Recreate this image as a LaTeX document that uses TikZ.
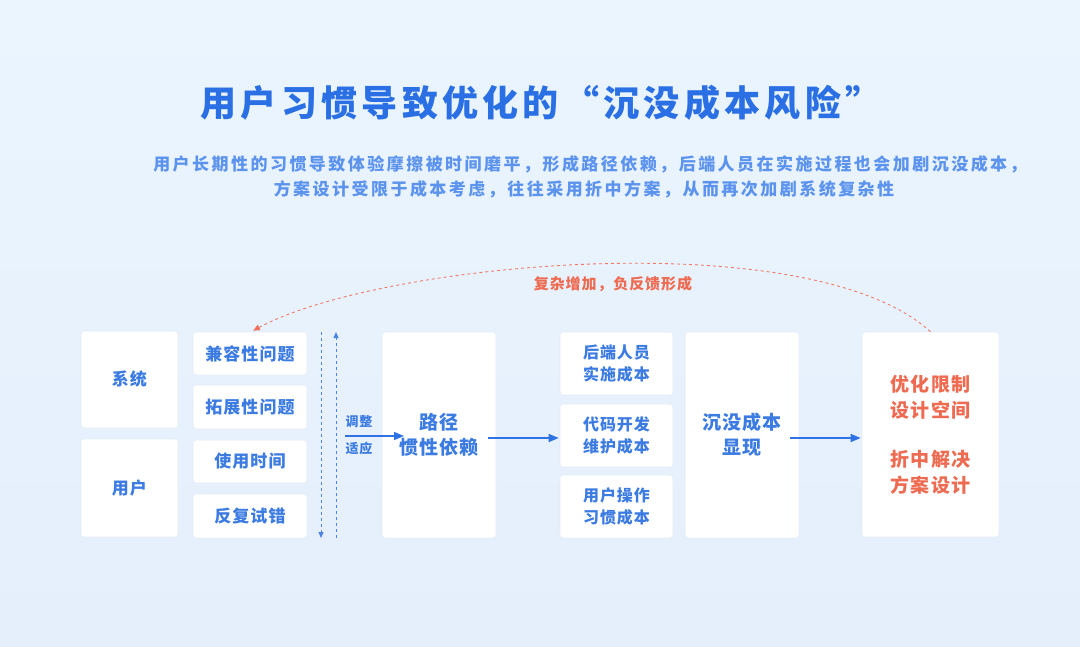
\documentclass[tikz,border=0pt]{standalone}
\usepackage{fontspec}
\setmainfont{Noto Sans CJK SC}
\newfontfamily\cjktitle{Noto Sans CJK SC}[LetterSpace=12]
\newfontfamily\cjksub{Noto Sans CJK SC}[LetterSpace=14.5]
\newfontfamily\cjkbox{Noto Sans CJK SC}[LetterSpace=6]
\usetikzlibrary{arrows.meta}
\definecolor{bgtop}{HTML}{EAF5FE}
\definecolor{bgbot}{HTML}{E5EFFC}
\definecolor{titleblue}{HTML}{2A6FE4}
\definecolor{subblue}{HTML}{5C93EE}
\definecolor{boxblue}{HTML}{3B7BE2}
\definecolor{lineblue}{HTML}{2F72E3}
\definecolor{dashblue}{HTML}{4A84E6}
\definecolor{redtxt}{HTML}{EE6A50}
\definecolor{redline}{HTML}{EF7A66}
\definecolor{cardline}{HTML}{E2ECF8}
\tikzset{
  card/.style={fill=white, draw=cardline, line width=0.6pt, rounded corners=3pt, inner sep=0pt, align=center},
  bigtxt/.style={text=boxblue, font=\cjkbox\bfseries\fontsize{19}{25}\selectfont},
  midtxt/.style={text=boxblue, font=\cjkbox\bfseries\fontsize{17}{22}\selectfont},
  smalltxt/.style={text=boxblue, font=\cjkbox\bfseries\fontsize{16}{22}\selectfont},
  redbig/.style={text=redtxt, font=\cjkbox\bfseries\fontsize{19}{26}\selectfont},
  arr/.style={draw=lineblue, line width=1.4pt, -{Triangle[length=10pt,width=8pt]}},
  dasharr/.style={draw=dashblue, line width=0.9pt, dash pattern=on 3pt off 3pt, -{Triangle[length=6pt,width=5pt]}},
}
\begin{document}
\begin{tikzpicture}[x=1pt,y=-1pt]
\useasboundingbox (0,0) rectangle (1080,646);
\shade[top color=bgtop, bottom color=bgbot] (0,0) rectangle (1080,646);

% title and subtitle
\node[text=titleblue, font=\cjktitle\bfseries\fontsize{36}{40}\selectfont] (title) at (541,103) {用户习惯导致优化的“沉没成本风险”};
\node[text=subblue, font=\cjksub\bfseries\fontsize{17}{22}\selectfont] (sub1) at (590,164) {用户长期性的习惯导致体验摩擦被时间磨平，形成路径依赖，后端人员在实施过程也会加剧沉没成本，};
\node[text=subblue, font=\cjksub\bfseries\fontsize{17}{22}\selectfont] (sub2) at (584,189) {方案设计受限于成本考虑，往往采用折中方案，从而再次加剧系统复杂性};

% left column
\node[card, minimum width=97pt, minimum height=97pt, midtxt] (xitong) at (129.5,379.5) {系统};
\node[card, minimum width=97pt, minimum height=98pt, midtxt] (yonghu) at (129.5,488) {用户};
\node[card, minimum width=114pt, minimum height=43pt, midtxt] (jianrong) at (250,353.5) {兼容性问题};
\node[card, minimum width=114pt, minimum height=44pt, midtxt] (tuozhan) at (250,407) {拓展性问题};
\node[card, minimum width=114pt, minimum height=43pt, midtxt] (shiyong) at (250,461.5) {使用时间};
\node[card, minimum width=114pt, minimum height=44pt, midtxt] (fanfu) at (250,516) {反复试错};

% dashed vertical arrows
\coordinate (dnS) at (321,332);
\coordinate (dnE) at (321,538);
\coordinate (upS) at (336,538);
\coordinate (upE) at (336,332);
\draw[dasharr] (dnS) -- (dnE);
\draw[dasharr] (upS) -- (upE);

% path dependence
\node[card, minimum width=114pt, minimum height=206pt, bigtxt] (lujing) at (439,435) {路径\\惯性依赖};
\node[text=boxblue, font=\cjkbox\bfseries\fontsize{13}{16}\selectfont] (tiaozheng) at (359,422) {调整};
\node[text=boxblue, font=\cjkbox\bfseries\fontsize{13}{16}\selectfont] (shiying) at (359,449) {适应};
\coordinate (adjS) at (345,436);
\coordinate (adjE) at (404,436);
\draw[arr] (adjS) -- (adjE);

% cost column
\node[card, minimum width=113pt, minimum height=63pt, smalltxt] (houduan) at (616.5,363.5) {后端人员\\实施成本};
\node[card, minimum width=113pt, minimum height=63pt, smalltxt] (daima) at (616.5,435.5) {代码开发\\维护成本};
\node[card, minimum width=113pt, minimum height=63pt, smalltxt] (caozuo) at (616.5,506.5) {用户操作\\习惯成本};

\node[card, minimum width=114pt, minimum height=206pt, bigtxt] (chenmo) at (742,435) {沉没成本\\显现};

\node[card, minimum width=137pt, minimum height=205pt, redbig] (youhua) at (930.5,434.5) {优化限制\\设计空间\\[23pt]折中解决\\方案设计};

% connectors
\draw[arr] ([shift={(-8,3)}]lujing.east) -- ([shift={(-1,2.5)}]daima.west);
\draw[arr] ([shift={(-9,3)}]chenmo.east) -- ([shift={(-1,3.5)}]youhua.west);

% feedback arc
\draw[draw=redline, line width=0.9pt, dash pattern=on 3pt off 3pt, -{Triangle[length=7pt,width=6pt,fill=redtxt]}]
  (youhua.north) .. controls (810,222) and (380,262) .. ([shift={(3,-1)}]jianrong.north);
\node[text=redtxt, font=\cjkbox\bfseries\fontsize{15}{18}\selectfont] (fankui) at (613,284) {复杂增加，负反馈形成};
\end{tikzpicture}
\end{document}
